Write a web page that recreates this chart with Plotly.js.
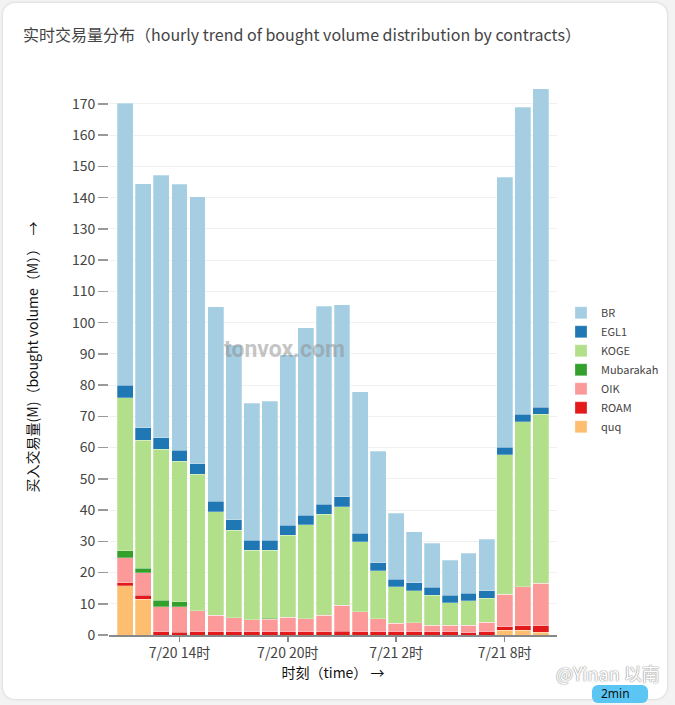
<!DOCTYPE html>
<html>
<head>
<meta charset="utf-8">
<script src="https://cdn.plot.ly/plotly-3.0.1.min.js"></script>
<style>
  html, body { margin:0; padding:0; background:#f3f3f3; width:675px; height:705px; overflow:hidden; }
  #card { position:absolute; left:3px; top:3px; width:664px; height:696px; background:#fff; border-radius:12px; box-shadow:0 0 3px rgba(0,0,0,0.18); }
  #chart { position:absolute; left:0; top:0; width:675px; height:705px; }
  #yinan { position:absolute; left:556px; top:663px; font-family:"Noto Sans CJK SC", sans-serif; font-size:18px; line-height:20px; color:#fff;
           text-shadow: 0 0 1px #999, 0 0 1px #999, 0 0 2px #bbb; white-space:nowrap; }
  #badge { position:absolute; left:592px; top:685px; width:56px; height:18px; background:#5bc6f4; border-radius:6px;
           font-family:"Noto Sans", sans-serif; font-size:12px; line-height:18px; color:#111; padding-left:9px; box-sizing:border-box; }
</style>
</head>
<body>
<div id="card"></div>
<div id="chart"></div>
<div id="yinan">@Yinan 以南</div>
<div id="badge">2min</div>
<script>
const hours = ['2024-07-20 11:00','2024-07-20 12:00','2024-07-20 13:00','2024-07-20 14:00','2024-07-20 15:00','2024-07-20 16:00',
               '2024-07-20 17:00','2024-07-20 18:00','2024-07-20 19:00','2024-07-20 20:00','2024-07-20 21:00','2024-07-20 22:00',
               '2024-07-20 23:00','2024-07-21 00:00','2024-07-21 01:00','2024-07-21 02:00','2024-07-21 03:00','2024-07-21 04:00',
               '2024-07-21 05:00','2024-07-21 06:00','2024-07-21 07:00','2024-07-21 08:00','2024-07-21 09:00','2024-07-21 10:00'];
const quq  = [15.7,11.5,0,0,0,0,0,0,0,0,0,0,0,0,0,0,0,0,0,0,0,1.6,1.6,0.9];
const roam = [1.0,1.3,1.0,0.9,1.0,1.0,1.0,1.0,1.0,1.0,1.0,1.0,1.2,1.0,1.0,1.0,1.0,1.0,1.0,0.7,1.0,1.1,1.3,2.0];
const oik  = [8.0,7.1,8.1,8.2,6.7,5.3,4.5,3.9,4.1,4.7,4.2,5.3,8.3,6.5,4.2,2.8,2.9,2.2,2.2,2.5,3.1,10.3,12.6,13.6];
const mubarakah = [2.2,1.5,2.1,1.5,0.1,0,0,0,0.2,0,0,0,0,0,0,0,0,0,0,0,0,0,0,0];
const koge = [49.0,41.0,48.2,45.1,43.7,33.1,28.1,22.3,21.9,26.2,30.1,32.4,31.6,22.4,15.3,11.6,10.3,9.5,7.1,7.8,7.6,44.7,52.8,54.2];
const egl1 = [4.1,3.9,3.7,3.5,3.4,3.4,3.3,3.2,3.2,3.3,3.1,3.1,3.1,2.6,2.6,2.5,2.5,2.6,2.5,2.4,2.5,2.4,2.3,2.2];
const br   = [90.3,78.2,84.1,85.1,85.4,62.3,55.9,43.8,44.4,54.6,60.0,63.5,61.6,45.3,35.7,21.0,16.3,14.0,11.2,12.7,16.5,86.5,98.4,102.0];

const seriesNames = ['quq','ROAM','OIK','Mubarakah','KOGE','EGL1','BR'];
const seriesData  = [quq, roam, oik, mubarakah, koge, egl1, br];
const colors = ['#fdbf6f','#e31a1c','#fb9a99','#33a02c','#b2df8a','#1f78b4','#a6cee3'];

const traces = seriesNames.map((n, i) => ({
  type: 'bar', name: n, x: hours, y: seriesData[i],
  marker: { color: colors[i], line: { color: 'rgba(255,255,255,0.45)', width: 0.6 } },
  hoverinfo: 'skip'
}));

const font = '"Noto Sans CJK SC", "Noto Sans", sans-serif';
const layout = {
  width: 675, height: 705,
  paper_bgcolor: 'rgba(0,0,0,0)', plot_bgcolor: 'rgba(0,0,0,0)',
  margin: { l: 109, r: 117, t: 79, b: 70 },
  barmode: 'stack', bargap: 0.12,
  font: { family: font, color: '#444' },
  title: { text: '实时交易量分布（hourly trend of bought volume distribution by contracts）',
           x: 0, xref: 'container', xanchor: 'left', y: 0.95, yref: 'container', yanchor: 'middle',
           pad: { l: 23 }, font: { family: font, size: 16, color: '#444' } },
  xaxis: {
    type: 'date', range: ['2024-07-20 10:06', '2024-07-21 10:54'],
    tick0: '2024-07-20 02:00', dtick: 6 * 3600 * 1000, tickformat: '%-m/%-d %-H时',
    ticks: 'outside', ticklen: 5, tickcolor: '#888', tickwidth: 1.5,
    showline: true, linecolor: '#888', linewidth: 1.5, showgrid: false,
    tickfont: { size: 14, color: '#444' },
    title: { text: '时刻（time） →', font: { size: 14, color: '#111' }, standoff: 3 }
  },
  yaxis: {
    range: [0, 178], dtick: 10, ticks: 'outside', ticklen: 10, tickcolor: '#999', tickwidth: 1.5,
    showgrid: true, gridcolor: '#f0f0f0', gridwidth: 1, zeroline: false, showline: false,
    tickfont: { size: 14, color: '#444' },
    title: { text: '买入交易量(M)（bought volume（M））  →', font: { size: 14, color: '#111' }, standoff: 29 }
  },
  legend: { x: 1.0067, xanchor: 'left', y: 0.477, yanchor: 'middle', traceorder: 'reversed',
            font: { size: 11, color: '#444' }, bgcolor: 'rgba(0,0,0,0)' },
  annotations: [
    { text: '<b>tonvox.com</b>', xref: 'paper', yref: 'paper', x: 0.392, y: 0.513, showarrow: false,
      font: { size: 23, color: 'rgba(140,140,140,0.5)', family: 'Roboto, sans-serif' } }
  ]
};

Plotly.newPlot('chart', traces, layout, { displayModeBar: false, staticPlot: true });
</script>
</body>
</html>
